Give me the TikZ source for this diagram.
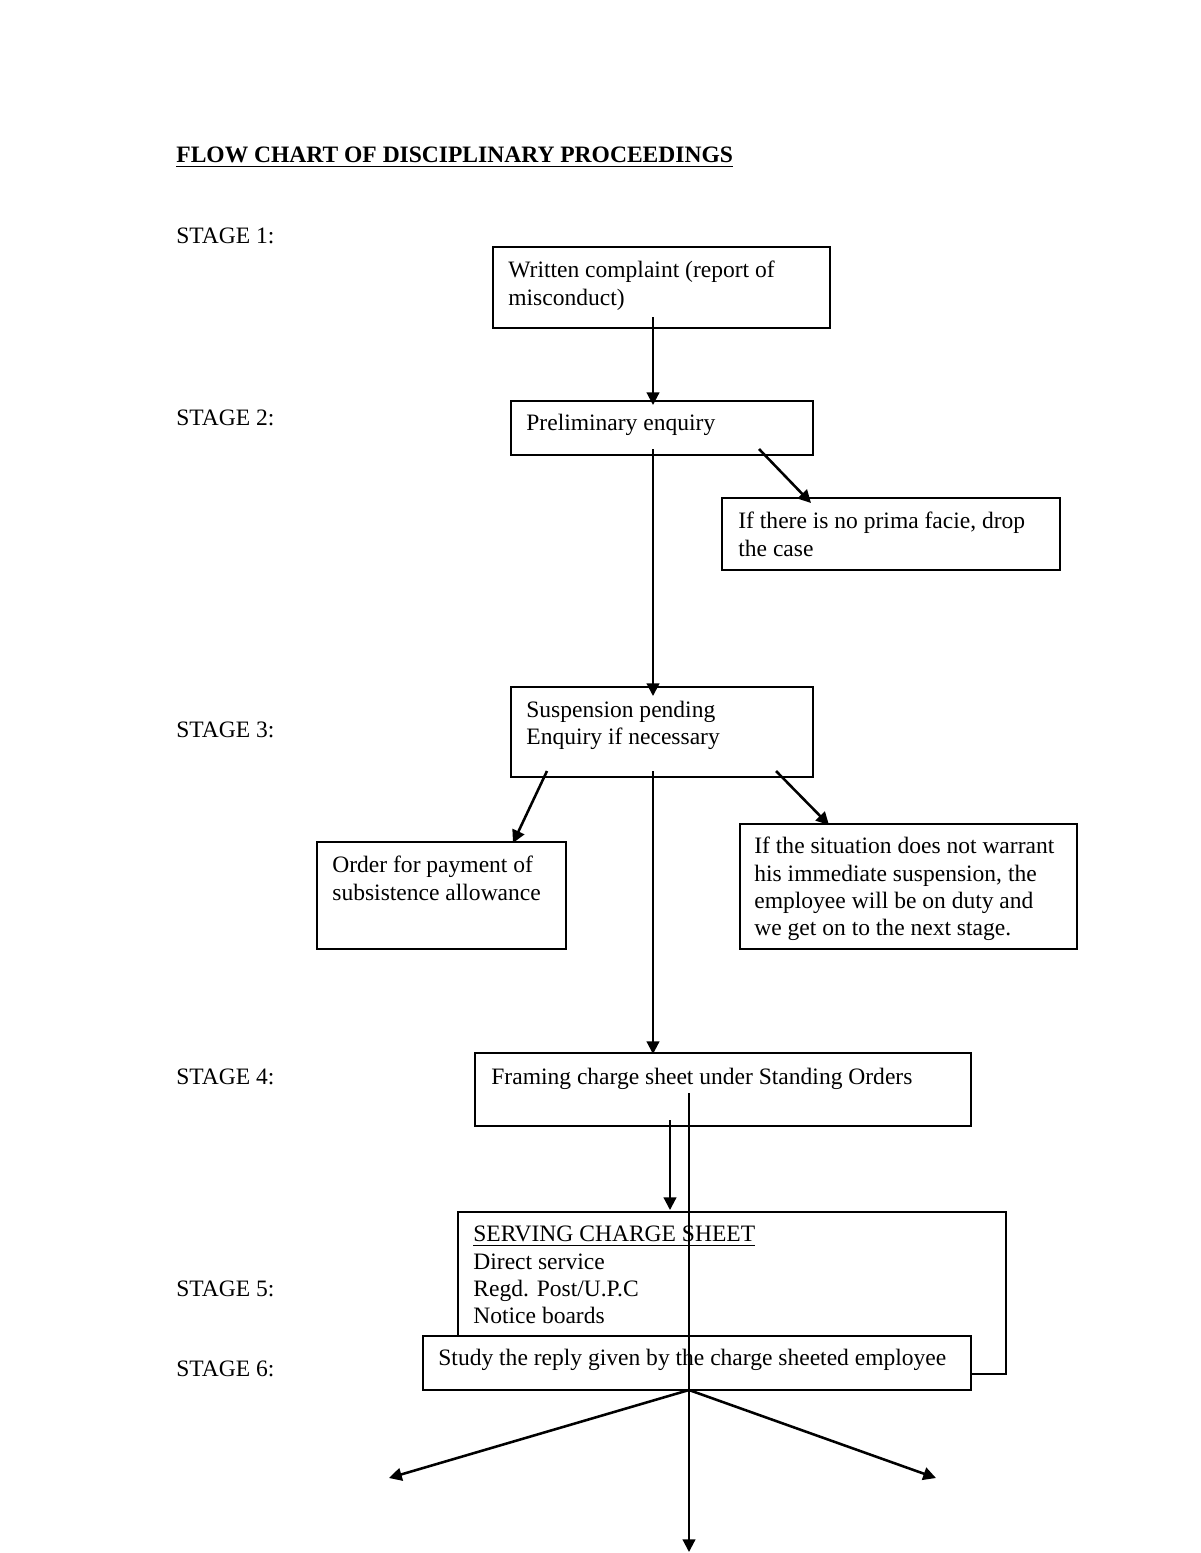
\documentclass[tikz,border=0pt]{standalone}
\usepackage{fontspec}
\setmainfont{Liberation Serif}
\usetikzlibrary{arrows.meta}
\begin{document}
\begin{tikzpicture}[x=0.51pt,y=-0.51pt,
  box/.style={draw, line width=1.45pt, inner sep=0pt, outer sep=0pt, anchor=north west, fill=white},
  sz/.style 2 args={minimum width=#1*0.51pt, minimum height=#2*0.51pt},
  txt/.style={inner sep=0pt, anchor=north west, align=left, font=\fontsize{12}{13.8}\selectfont},
  lbl/.style={inner sep=0pt, anchor=base west, font=\fontsize{12}{13.8}\selectfont},
  arr/.style={line width=1.1pt, -{Triangle[length=6.5pt,width=6.5pt]}},
  darr/.style={arr, line width=1.3pt}]
\useasboundingbox[fill=white] (0,0) rectangle (1200,1553);

% title and stage labels
\node[lbl] (title) at (176,163) {\bfseries\underline{FLOW CHART OF DISCIPLINARY PROCEEDINGS}};
\node[lbl] (s1) at (176,244) {STAGE 1:};
\node[lbl] (s2) at (176,425) {STAGE 2:};
\node[lbl] (s3) at (176,737) {STAGE 3:};
\node[lbl] (s4) at (176,1084) {STAGE 4:};
\node[lbl] (s5) at (176,1296) {STAGE 5:};
\node[lbl] (s6) at (176,1376) {STAGE 6:};

% boxes
\node[box, sz={337}{81}] (b1) at (493,247) {};
\node[box, sz={302}{54}] (b2) at (511,401) {};
\node[box, sz={338}{72}] (b3) at (722,498) {};
\node[box, sz={302}{90}] (b4) at (511,687) {};
\node[box, sz={249}{107}] (b5) at (317,842) {};
\node[box, sz={337}{125}] (b6) at (740,824) {};
\node[box, sz={496}{73}] (b7) at (475,1053) {};
\node[box, sz={548}{162}] (b8) at (458,1212) {};
\node[box, sz={548}{54}] (b9) at (423,1336) {};

% box texts
\node[txt] (t1) at (508,261) {Written complaint (report of\\misconduct)};
\node[lbl] (t2) at (526,430) {Preliminary enquiry};
\node[txt] (t3) at (738,512) {If there is no prima facie, drop\\the case};
\node[txt] (t4) at (526,701) {Suspension pending\\Enquiry if necessary};
\node[txt] (t5) at (332,856) {Order for payment of\\subsistence allowance};
\node[txt] (t6) at (754,837) {If the situation does not warrant\\his immediate suspension, the\\employee will be on duty and\\we get on to the next stage.};
\node[lbl] (t7) at (491,1084) {Framing charge sheet under Standing Orders};
\node[txt] (t8) at (473,1226) {\underline{SERVING CHARGE SHEET}\\Direct service\\Regd. Post/U.P.C\\Notice boards};
\node[lbl] (t9) at (438,1365) {Study the reply given by the charge sheeted employee};

% connector end points
\coordinate (a1s) at (653,317);  \coordinate (a1e) at (653,405);
\coordinate (a2s) at (653,449);  \coordinate (a2e) at (653,696);
\coordinate (a3s) at (759,449);  \coordinate (a3e) at (811,503);
\coordinate (a4s) at (653,771);  \coordinate (a4e) at (653,1054);
\coordinate (a5s) at (547,771);  \coordinate (a5e) at (513,843);
\coordinate (a6s) at (776,771);  \coordinate (a6e) at (829,825);
\coordinate (a7s) at (670,1120); \coordinate (a7e) at (670,1210);
\coordinate (a8s) at (689,1093); \coordinate (a8e) at (689,1552);
\coordinate (hub) at (689,1390);
\coordinate (a9e) at (389,1478);
\coordinate (a10e) at (936,1478);

% connectors
\draw[arr] (a1s) -- (a1e);
\draw[arr] (a2s) -- (a2e);
\draw[darr] (a3s) -- (a3e);
\draw[arr] (a4s) -- (a4e);
\draw[darr] (a5s) -- (a5e);
\draw[darr] (a6s) -- (a6e);
\draw[arr] (a7s) -- (a7e);
\draw[arr] (a8s) -- (a8e);
\draw[darr] (hub) -- (a9e);
\draw[darr] (hub) -- (a10e);
\end{tikzpicture}
\end{document}
